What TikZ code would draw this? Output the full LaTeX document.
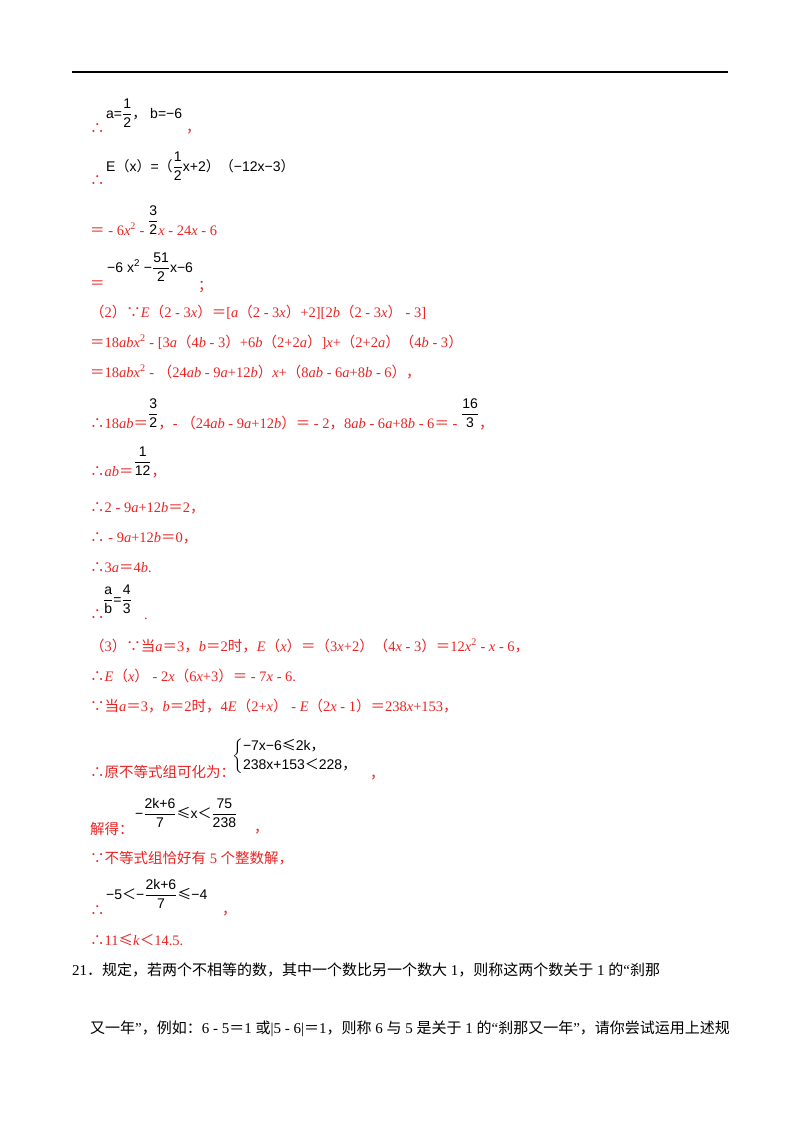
\documentclass[tikz,border=0pt]{standalone}
\usepackage{amsmath}
\usepackage{fontspec}
\setmainfont{Liberation Serif}
\newfontfamily\cjk{Noto Sans CJK SC}
\newfontfamily\bsf{Liberation Sans}
\definecolor{rd}{RGB}{235,35,35}
\newXeTeXintercharclass\cjkcls
\newcount\cc
\cc="4E00 \loop\ifnum\cc<"A000 \XeTeXcharclass\cc=\cjkcls \advance\cc 1 \repeat
\cc="FF01 \loop\ifnum\cc<"FF60 \XeTeXcharclass\cc=\cjkcls \advance\cc 1 \repeat
\XeTeXcharclass"2234=\cjkcls \XeTeXcharclass"2235=\cjkcls
\XeTeXcharclass"2264=\cjkcls \XeTeXcharclass"3002=\cjkcls
\XeTeXinterchartoks 0 \cjkcls = {\begingroup\cjk}
\XeTeXinterchartoks 4095 \cjkcls = {\begingroup\cjk}
\XeTeXinterchartoks \cjkcls 0 = {\endgroup}
\XeTeXinterchartoks \cjkcls 4095 = {\endgroup}
\XeTeXinterchartokenstate=1
\newcommand{\fr}[2]{\ensuremath{\dfrac{\mbox{#1}}{\mbox{#2}}}}
\newcommand{\iv}[1]{\textit{#1}}
\newcommand{\bfr}[2]{\raisebox{10pt}{\color{black}\bsf\fontsize{14}{16}\selectfont\fr{#1}{#2}}}
\begin{document}
\begin{tikzpicture}[x=1pt,y=-1pt,
  rt/.style={anchor=base west,inner sep=0pt,text=rd,font=\fontsize{14.5}{16}\selectfont},
  bt/.style={anchor=base west,inner sep=0pt,text=black,font=\bsf\fontsize{14}{16}\selectfont},
  kt/.style={anchor=base west,inner sep=0pt,text=black,font=\fontsize{15}{17}\selectfont}]
\useasboundingbox (0,0) rectangle (800,1132);
\draw[line width=1.2pt] (72,72) -- (728,72);
\node[rt] (l1) at (90,133) {∴};
\node[bt] (l1b) at (106,118) {a=\fr{1}{2}，\ b=−6};
\node[rt] (l1c) at (186,132) {，};
\node[rt] (l2) at (90,185) {∴};
\node[bt] (l2b) at (106,171) {E（x）=（\fr{1}{2}x+2）（−12x−3）};
\node[rt] (l3) at (90,235) {＝ - 6\iv{x}\textsuperscript{2} - \bfr{3}{2}\iv{x} - 24\iv{x} - 6};
\node[rt] (l4) at (90,288) {＝};
\node[bt] (l4b) at (107,272) {−6 x\textsuperscript{2} −\fr{51}{2}x−6};
\node[rt] (l4c) at (198,290) {；};
\node[rt] (l5) at (90,317) {（2）∵\iv{E}（2 - 3\iv{x}）＝[\iv{a}（2 - 3\iv{x}）+2][2\iv{b}（2 - 3\iv{x}） - 3]};
\node[rt] (l6) at (90,347) {＝18\iv{abx}\textsuperscript{2} - [3\iv{a}（4\iv{b} - 3）+6\iv{b}（2+2\iv{a}）]\iv{x}+（2+2\iv{a}）（4\iv{b} - 3）};
\node[rt] (l7) at (90,377) {＝18\iv{abx}\textsuperscript{2} - （24\iv{ab} - 9\iv{a}+12\iv{b}）\iv{x}+（8\iv{ab} - 6\iv{a}+8\iv{b} - 6），};
\node[rt] (l8) at (90,428) {∴18\iv{ab}＝\bfr{3}{2}，- （24\iv{ab} - 9\iv{a}+12\iv{b}）＝ - 2，8\iv{ab} - 6\iv{a}+8\iv{b} - 6＝ - \bfr{16}{3}，};
\node[rt] (l9) at (90,476) {∴\iv{ab}＝\bfr{1}{12}，};
\node[rt] (l10) at (90,512) {∴2 - 9\iv{a}+12\iv{b}＝2，};
\node[rt] (l11) at (90,542) {∴ - 9\iv{a}+12\iv{b}＝0，};
\node[rt] (l12) at (90,572) {∴3\iv{a}＝4\iv{b}.};
\node[rt] (l13) at (90,619) {∴};
\node[bt] (l13b) at (103,604) {\fr{a}{b}=\fr{4}{3}};
\node[rt] (l13c) at (144,619) {.};
\node[rt] (l14) at (90,651) {（3）∵当\iv{a}＝3，\iv{b}＝2时，\iv{E}（\iv{x}）＝（3\iv{x}+2）（4\iv{x} - 3）＝12\iv{x}\textsuperscript{2} - \iv{x} - 6，};
\node[rt] (l15) at (90,681) {∴\iv{E}（\iv{x}） - 2\iv{x}（6\iv{x}+3）＝ - 7\iv{x} - 6.};
\node[rt] (l16) at (90,711) {∵当\iv{a}＝3，\iv{b}＝2时，4\iv{E}（2+\iv{x}） - \iv{E}（2\iv{x} - 1）＝238\iv{x}+153，};
\node[rt] (l17) at (90,777) {∴原不等式组可化为：};
\node[bt] (l17b) at (232,760) {$\left\{\begin{array}{@{}l@{}}\mbox{−7x−6≤2k，}\\[3pt]\mbox{238x+153＜228，}\end{array}\right.$};
\node[rt] (l17c) at (370,778) {，};
\node[rt] (l18) at (90,834) {解得：};
\node[bt] (l18b) at (135,818) {−\fr{2k+6}{7}≤x＜\fr{75}{238}};
\node[rt] (l18c) at (254,832) {，};
\node[rt] (l19) at (90,863) {∵不等式组恰好有 5 个整数解，};
\node[rt] (l20) at (90,915) {∴};
\node[bt] (l20b) at (106,899) {−5＜−\fr{2k+6}{7}≤−4};
\node[rt] (l20c) at (222,914) {，};
\node[rt] (l21) at (90,945) {∴11≤\iv{k}＜14.5.};
\node[kt] (p1) at (72,975) {21．规定，若两个不相等的数，其中一个数比另一个数大 1，则称这两个数关于 1 的“刹那};
\node[kt] (p2) at (90,1033) {又一年”，例如：6 - 5＝1 或|5 - 6|＝1，则称 6 与 5 是关于 1 的“刹那又一年”，请你尝试运用上述规};
\end{tikzpicture}
\end{document}
